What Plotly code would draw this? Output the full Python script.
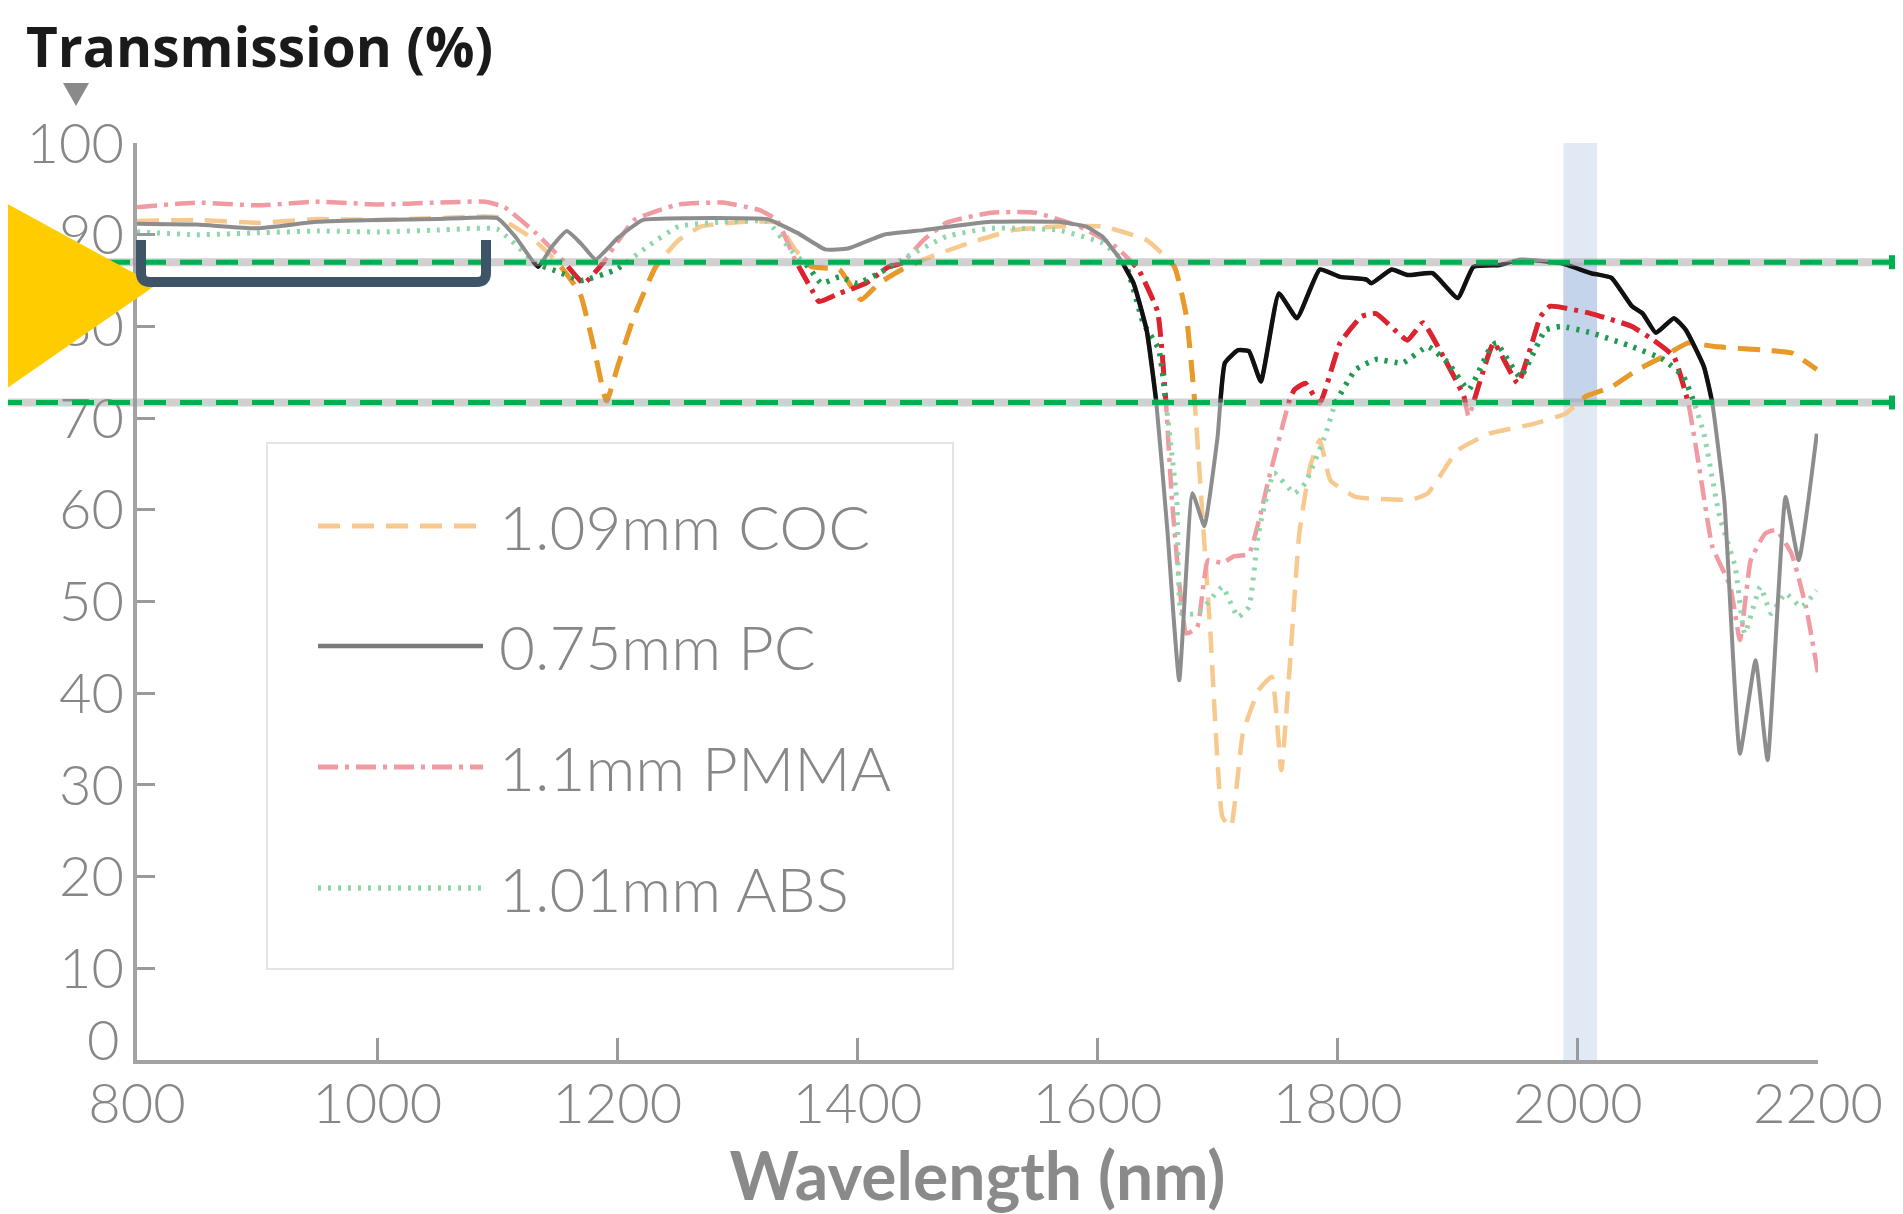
import plotly.graph_objects as go

# ---------------- data ----------------
wl_coc = [800, 850, 900, 950, 1000, 1050, 1100, 1130, 1150, 1169, 1180, 1191, 1200, 1214, 1232,
          1251, 1270, 1307, 1333, 1348, 1362, 1385, 1403, 1418, 1437, 1455, 1493, 1530, 1567,
          1604, 1641, 1664, 1674, 1681, 1686, 1694, 1704, 1711, 1721, 1734, 1745, 1753, 1760,
          1768, 1777, 1785, 1794, 1815, 1849, 1862, 1875, 1900, 1926, 1964, 1990, 2007, 2028,
          2050, 2071, 2092, 2114, 2156, 2178, 2199]
t_coc = [91.5, 91.6, 91.3, 91.7, 91.6, 91.8, 91.9, 89.5, 87.0, 83.6, 78.0, 71.8, 75.5, 81.1, 86.5,
         89.4, 90.9, 91.4, 91.3, 88.4, 86.5, 86.2, 82.9, 84.7, 86.2, 87.3, 89.1, 90.5, 90.9,
         90.9, 89.4, 86.5, 81.1, 71.6, 62.0, 46.5, 26.5, 25.4, 35.6, 40.3, 41.8, 31.6, 42.9,
         57.4, 64.7, 67.6, 63.2, 61.4, 61.1, 61.1, 61.8, 66.5, 68.3, 69.4, 70.5, 72.4, 73.4,
         75.3, 76.7, 78.2, 77.8, 77.4, 77.1, 75.3]

wl_pc = [800, 850, 900, 950, 1000, 1050, 1100, 1115, 1134, 1145, 1158, 1170, 1182, 1200, 1221,
         1260, 1300, 1325, 1350, 1373, 1392, 1422, 1455, 1511, 1567, 1590, 1604, 1619, 1630,
         1641, 1649, 1658, 1668, 1679, 1689, 1694, 1700, 1706, 1717, 1726, 1736, 1751, 1766,
         1785, 1802, 1824, 1828, 1845, 1858, 1879, 1900, 1913, 1935, 1952, 1986, 2011, 2028,
         2045, 2054, 2065, 2080, 2090, 2105, 2112, 2122, 2135, 2148, 2158, 2173, 2184, 2199]
t_pc = [91.2, 91.1, 90.7, 91.4, 91.6, 91.7, 91.8, 89.8, 86.5, 88.6, 90.4, 89.0, 87.3, 89.6, 91.6,
        91.8, 91.8, 91.7, 90.2, 88.4, 88.5, 90.0, 90.5, 91.4, 91.4, 90.9, 89.8, 87.3, 84.7,
        79.5, 71.6, 58.0, 41.4, 61.8, 58.2, 62.0, 68.0, 76.0, 77.4, 77.3, 74.0, 83.6, 80.9,
        86.2, 85.4, 85.1, 84.7, 86.2, 85.6, 85.8, 83.1, 86.5, 86.7, 87.3, 86.9, 85.8, 85.3,
        82.2, 81.4, 79.3, 80.9, 79.6, 75.6, 71.6, 61.0, 33.4, 43.6, 32.7, 61.4, 54.5, 68.3]

wl_pmma = [800, 850, 900, 950, 1000, 1050, 1090, 1106, 1132, 1154, 1172, 1188, 1214, 1251, 1288,
           1318, 1333, 1348, 1362, 1368, 1385, 1407, 1426, 1437, 1455, 1474, 1511, 1548, 1585,
           1615, 1634, 1650, 1657, 1662, 1674, 1683, 1692, 1704, 1713, 1726, 1743, 1760, 1764,
           1773, 1785, 1802, 1820, 1832, 1858, 1871, 1888, 1905, 1909, 1918, 1930, 1950, 1969,
           1977, 2011, 2045, 2063, 2080, 2092, 2101, 2112, 2127, 2135, 2144, 2156, 2165, 2178,
           2190, 2200]
t_pmma = [93.0, 93.5, 93.2, 93.6, 93.3, 93.5, 93.6, 93.0, 90.2, 87.3, 84.7, 86.9, 91.6, 93.3, 93.5,
          92.7, 91.6, 87.3, 84.0, 82.7, 83.6, 84.7, 86.5, 86.9, 89.4, 91.3, 92.4, 92.4, 90.9,
          88.7, 86.2, 81.6, 71.6, 61.0, 46.5, 47.2, 54.5, 54.2, 54.9, 55.2, 63.6, 72.0, 73.1,
          73.8, 71.6, 78.2, 81.1, 81.4, 78.5, 80.4, 76.7, 72.4, 70.2, 73.8, 78.2, 73.8, 81.1,
          82.2, 81.4, 80.0, 78.5, 76.7, 71.6, 64.7, 56.0, 51.6, 45.8, 54.5, 57.4, 57.8, 55.2,
          49.4, 42.2]

wl_abs = [800, 850, 900, 950, 1000, 1050, 1100, 1132, 1150, 1170, 1199, 1225, 1251, 1288, 1325,
          1344, 1359, 1370, 1385, 1400, 1418, 1437, 1474, 1511, 1567, 1604, 1623, 1638, 1651,
          1657, 1666, 1670, 1683, 1694, 1704, 1717, 1726, 1734, 1747, 1764, 1773, 1790, 1798,
          1815, 1832, 1854, 1875, 1892, 1909, 1926, 1932, 1952, 1973, 1986, 2011, 2045, 2071,
          2088, 2097, 2105, 2118, 2131, 2139, 2152, 2161, 2173, 2186, 2199]
t_abs = [90.3, 90.0, 90.2, 90.4, 90.3, 90.5, 90.6, 86.9, 86.0, 85.0, 86.2, 88.7, 90.9, 91.4, 91.4,
         88.4, 86.5, 84.7, 85.4, 84.7, 85.8, 87.3, 89.8, 90.7, 90.5, 89.1, 86.9, 80.4, 77.5,
         71.6, 61.0, 48.7, 48.7, 50.2, 51.6, 48.3, 49.4, 57.4, 64.0, 61.8, 62.9, 68.3, 71.6,
         75.3, 76.4, 76.0, 77.8, 76.0, 73.1, 77.4, 78.2, 74.5, 79.6, 80.0, 79.3, 77.8, 76.4,
         74.5, 71.6, 68.3, 59.3, 53.8, 46.5, 51.6, 48.7, 50.9, 49.4, 51.2]

series_names = ["1.09mm COC", "0.75mm PC", "1.1mm PMMA", "1.01mm ABS"]
x_ticks = [800, 1000, 1200, 1400, 1600, 1800, 2000, 2200]
y_ticks = [0, 10, 20, 30, 40, 50, 60, 70, 80, 90, 100]
y_ticktext = ["", "10", "20", "30", "40", "50", "60", "70", "80", "90", "100"]
zero_label = "0"
band_limits = [71.7, 87.0]          # highlighted transmission band
laser_band = [1988, 2016]           # shaded wavelength band

# ---------------- geometry (page pixels; body has an 8px margin) ----------------
PAGE_W, PAGE_H, BODY = 1903, 1214, 8
X_RANGE = [800, 2200]
Y_RANGE = [0, 100]
L, R, T, B = 137, 1818, 143, 1060
W, H = R - L, B - T


def px(x):
    return (x - L) / W


def py(y):
    return (B - y) / H


styles = {
    "1.09mm COC": dict(faint="#f7c98f", strong="#e79a2a", dash="22px,12px", width=4.5),
    "0.75mm PC": dict(faint="#8d8d8d", strong="#111111", dash="solid", width=4),
    "1.1mm PMMA": dict(faint="#f09aa2", strong="#dc2430", dash="20px,7px,4px,7px", width=4.5),
    "1.01mm ABS": dict(faint="#8fd6aa", strong="#1f9a52", dash="3px,7px", width=5),
}
data = {
    "1.09mm COC": (wl_coc, t_coc),
    "0.75mm PC": (wl_pc, t_pc),
    "1.1mm PMMA": (wl_pmma, t_pmma),
    "1.01mm ABS": (wl_abs, t_abs),
}
draw_order = ["1.09mm COC", "1.1mm PMMA", "1.01mm ABS", "0.75mm PC"]

fig = go.Figure()
for name in draw_order:
    xs, ys = data[name]
    st = styles[name]
    fig.add_trace(go.Scatter(x=xs, y=ys, mode="lines", name=name, showlegend=False,
                             line=dict(color=st["faint"], dash=st["dash"], width=st["width"],
                                       shape="spline", smoothing=0.4),
                             xaxis="x", yaxis="y", hoverinfo="skip"))
for name in draw_order:
    xs, ys = data[name]
    st = styles[name]
    fig.add_trace(go.Scatter(x=xs, y=ys, mode="lines", name=name + " (band)", showlegend=False,
                             line=dict(color=st["strong"], dash=st["dash"], width=st["width"] + 0.5,
                                       shape="spline", smoothing=0.4),
                             xaxis="x2", yaxis="y2", hoverinfo="skip"))

tickfont = dict(family="Lato, 'Open Sans', sans-serif", size=56, color="#878787", weight=300)
fig.update_layout(
    width=PAGE_W - BODY, height=PAGE_H - BODY,
    margin=dict(l=L - BODY, r=PAGE_W - R, t=T - BODY, b=PAGE_H - B, pad=0),
    paper_bgcolor="white", plot_bgcolor="rgba(0,0,0,0)",
    showlegend=False,
    xaxis=dict(domain=[0, 1], range=X_RANGE, tickvals=x_ticks, ticks="inside", ticklen=22,
               tickwidth=2.5, tickcolor="#9a9a9a", showline=True, linecolor="#a3a3a3",
               linewidth=3.5, showgrid=False, zeroline=False, tickfont=tickfont,
               ticklabelstandoff=-8,
               title=dict(text="<b>Wavelength (nm)</b>", standoff=22,
                          font=dict(family="Lato, sans-serif", size=66, color="#8a8a8a"))),
    yaxis=dict(domain=[0, 1], range=Y_RANGE, tickvals=y_ticks, ticktext=y_ticktext,
               ticks="inside", ticklen=18,
               tickwidth=2.5, tickcolor="#9a9a9a", showline=True, linecolor="#a3a3a3",
               linewidth=3.5, showgrid=False, zeroline=False, tickfont=tickfont,
               ticklabelstandoff=-2),
    xaxis2=dict(domain=[0, 1], range=X_RANGE, anchor="y2", visible=False),
    yaxis2=dict(domain=[band_limits[0] / 100, band_limits[1] / 100], range=band_limits,
                anchor="x2", visible=False),
)

shapes = []
# shaded wavelength band (faint full height + stronger inside highlight band)
shapes.append(dict(type="rect", xref="x", yref="y", x0=laser_band[0], x1=laser_band[1],
                   y0=Y_RANGE[0], y1=Y_RANGE[1], fillcolor="#e1e9f5", line=dict(width=0),
                   layer="below"))
shapes.append(dict(type="rect", xref="x2", yref="y2", x0=laser_band[0], x1=laser_band[1],
                   y0=band_limits[0], y1=band_limits[1], fillcolor="#c4d4eb", line=dict(width=0),
                   layer="below"))

# legend box + samples
shapes.append(dict(type="rect", xref="paper", yref="paper", x0=px(267), x1=px(953),
                   y0=py(969), y1=py(443), fillcolor="white",
                   line=dict(color="#e4e4e4", width=2), layer="above"))
legend_rows = [526, 646, 767, 888]
for name, yrow in zip(series_names, legend_rows):
    st = styles[name]
    shapes.append(dict(type="line", xref="paper", yref="paper", x0=px(318), x1=px(483),
                       y0=py(yrow), y1=py(yrow),
                       line=dict(color=st["faint"] if name != "0.75mm PC" else "#7a7a7a",
                                 dash=st["dash"], width=st["width"] + 0.5)))

# highlight band dashed lines with grey shadow and end squares
for yv in band_limits:
    yp = (yv - Y_RANGE[0]) / (Y_RANGE[1] - Y_RANGE[0])
    shapes.append(dict(type="line", xref="paper", yref="paper", x0=px(0), x1=px(1896),
                       y0=yp, y1=yp, line=dict(color="rgba(150,150,150,0.45)", width=8)))
    shapes.append(dict(type="line", xref="paper", yref="paper", x0=px(0), x1=px(1896),
                       y0=yp, y1=yp, line=dict(color="#00b050", width=5, dash="22px,14px")))
    shapes.append(dict(type="rect", xref="paper", yref="paper", x0=px(1889), x1=px(1903),
                       y0=yp - 7 / H, y1=yp + 7 / H, fillcolor="#00b050", line=dict(width=0)))

# yellow pointer triangle
shapes.append(dict(type="path", xref="paper", yref="paper",
                   path=f"M {px(0)},{py(200)} L {px(156)},{py(285)} L {px(0)},{py(393)} Z",
                   fillcolor="#ffcc00", line=dict(width=0)))

# small grey marker under the axis title
shapes.append(dict(type="path", xref="paper", yref="paper",
                   path=f"M {px(63)},{py(83)} L {px(89)},{py(83)} L {px(76)},{py(106)} Z",
                   fillcolor="#8a8a8a", line=dict(width=0)))

# dark bracket
x0b, x1b, ytop, ybot, r = 141, 486, 240, 282, 9
path = (f"M {px(x0b)},{py(ytop)} L {px(x0b)},{py(ybot - r)} "
        f"Q {px(x0b)},{py(ybot)} {px(x0b + r)},{py(ybot)} "
        f"L {px(x1b - r)},{py(ybot)} Q {px(x1b)},{py(ybot)} {px(x1b)},{py(ybot - r)} "
        f"L {px(x1b)},{py(ytop)}")
shapes.append(dict(type="path", xref="paper", yref="paper", path=path,
                   line=dict(color="#3e5567", width=10)))

fig.update_layout(shapes=shapes)

annotations = [
    dict(text="<b>Transmission (%)</b>", xref="paper", yref="paper", x=px(24), y=py(45),
         xanchor="left", yanchor="middle", showarrow=False,
         font=dict(family="'Open Sans', Lato, sans-serif", size=55, color="#1a1a1a")),
    dict(text=zero_label, xref="paper", yref="paper", x=px(121), y=py(1038),
         xanchor="right", yanchor="middle", showarrow=False, font=tickfont),
]
for name, yrow in zip(series_names, legend_rows):
    annotations.append(dict(text=name, xref="paper", yref="paper", x=px(497), y=py(yrow),
                            xanchor="left", yanchor="middle", showarrow=False,
                            font=dict(family="Lato, sans-serif", size=62, color="#878787",
                                      weight=300)))
fig.update_layout(annotations=annotations)

fig.write_html("out.html")
